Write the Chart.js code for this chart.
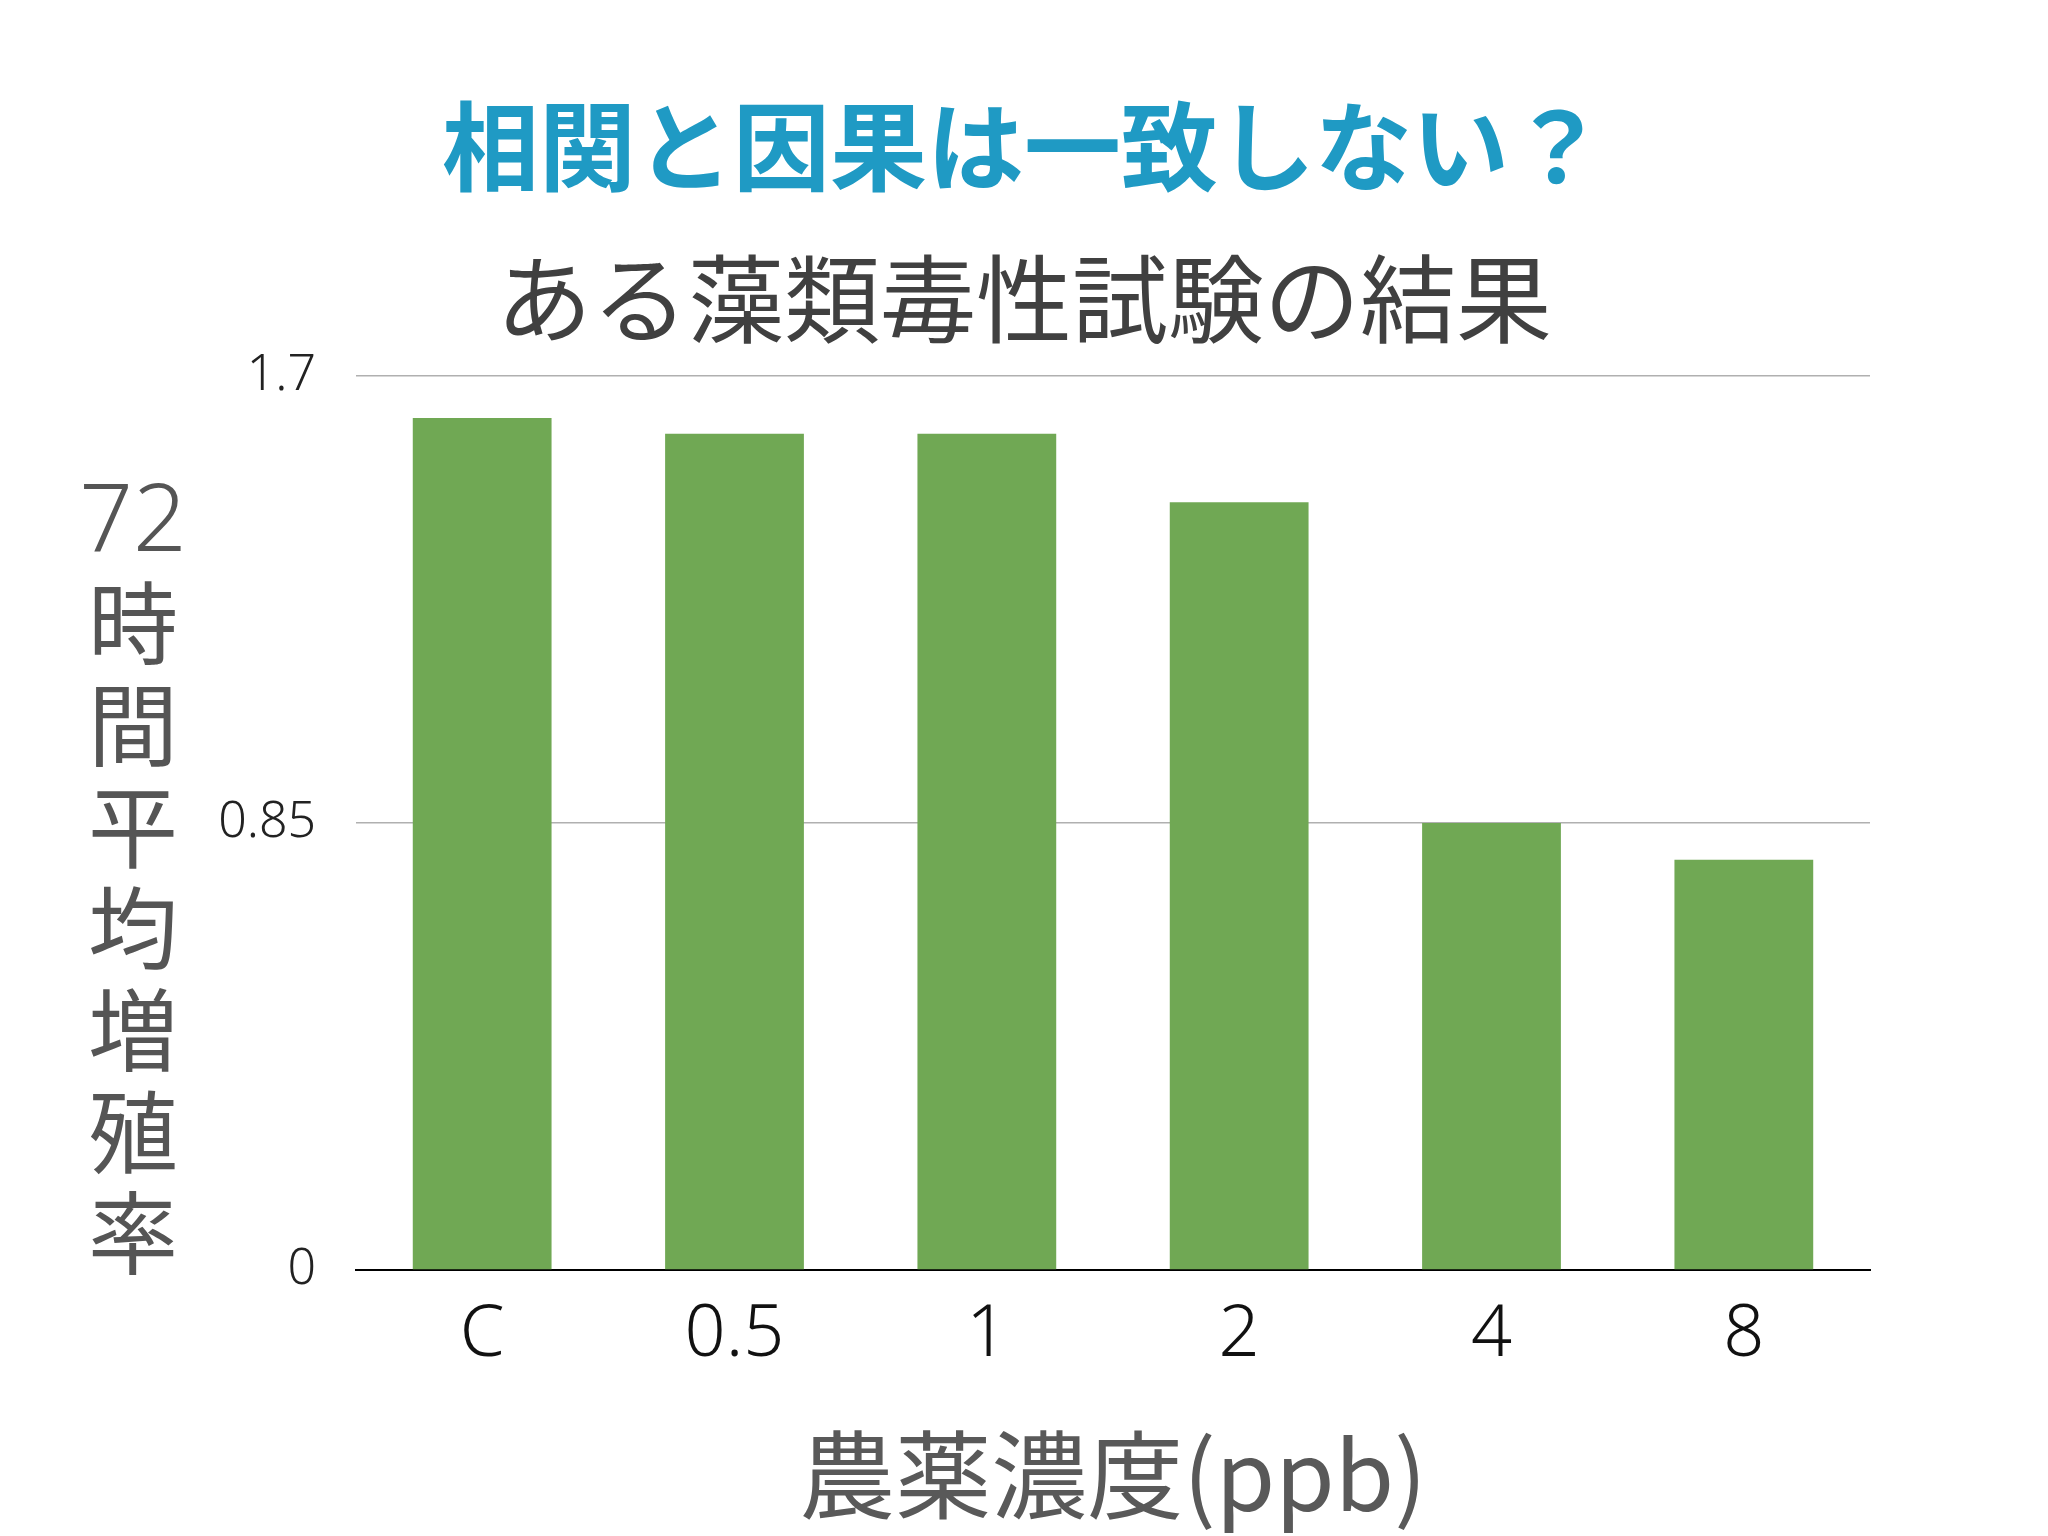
<!DOCTYPE html>
<html><head><meta charset="utf-8">
<script src="https://cdn.jsdelivr.net/npm/chart.js@4"></script>
<style>
html,body{margin:0;padding:0;background:#fff;}
#wrap{position:relative;width:2048px;height:1536px;font-family:"Noto Sans CJK JP","Noto Sans",sans-serif;}
#t1{position:absolute;top:92px;left:0;width:2048px;text-align:center;font-size:97px;font-weight:bold;color:#1f9ac4;line-height:1;}
#t2{position:absolute;top:246px;left:0;width:2048px;text-align:center;font-size:96px;color:#404040;line-height:1;}
#yt{position:absolute;left:66px;top:462px;width:134px;font-size:90px;color:#555;line-height:1.13;text-align:center;}
#c{position:absolute;left:0;top:0;}
</style></head><body>
<div id="wrap">
<canvas id="c" width="2048" height="1536"></canvas>
<div id="t1">相関と因果は一致しない？</div>
<div id="t2">ある藻類毒性試験の結果</div>
<div id="yt"><span style="font-family:'Noto Sans';font-weight:300;font-size:94px">72</span><br>時<br>間<br>平<br>均<br>増<br>殖<br>率</div>
</div>
<script>
const categories = ["C","0.5","1","2","4","8"];
const growthRate = [1.62, 1.59, 1.59, 1.46, 0.85, 0.78];
const yTicks = [0, 0.85, 1.7];
new Chart(document.getElementById('c'), {
  type:'bar',
  data:{labels:categories,datasets:[{data:growthRate,backgroundColor:'#70a854',barPercentage:0.55,categoryPercentage:1}]},
  options:{
    responsive:false,animation:false,
    layout:{padding:{top:376,right:178,left:0,bottom:0}},
    plugins:{legend:{display:false},tooltip:{enabled:false}},
    scales:{
      x:{grid:{display:false},border:{color:'#000',width:2},
         ticks:{color:'#111',font:{size:72,family:'Noto Sans',weight:300},padding:14},
         title:{display:true,text:'農薬濃度(ppb)',color:'#595959',font:{size:96,family:'Noto Sans CJK JP'},padding:{top:-14}},
         afterFit:s=>{s.height=266;}},
      y:{min:0,max:1.7,afterBuildTicks:s=>{s.ticks=yTicks.map(v=>({value:v}));},
         grid:{color:'#b0b0b0',lineWidth:1.5,drawTicks:false},border:{display:false},
         ticks:{color:'#222',font:{size:50,family:'Noto Sans',weight:300},padding:40,callback:v=>String(v)},
         afterFit:s=>{s.width=356;}}
    }
  }
});
</script>
</body></html>
